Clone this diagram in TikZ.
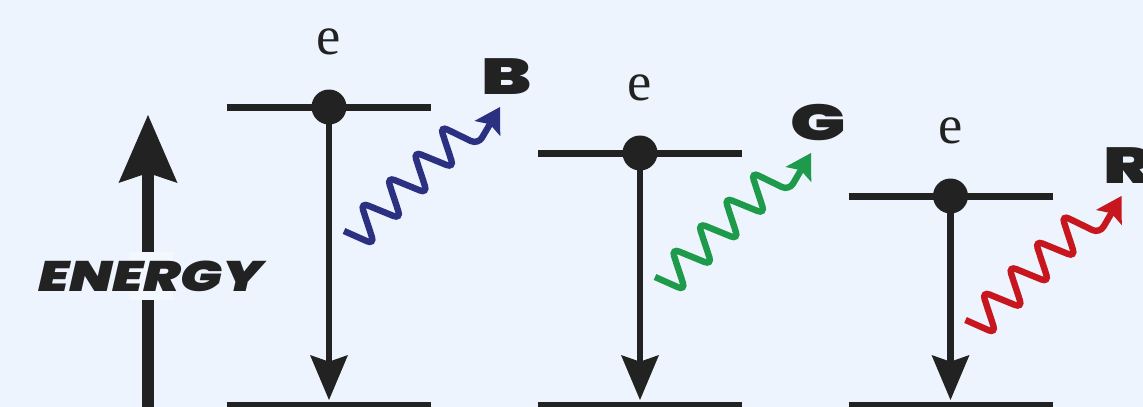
\documentclass[tikz,border=0pt]{standalone}
\usepackage{fontspec}
\usetikzlibrary{arrows.meta}
\newfontfamily\heavy{Poppins Black}[FakeStretch=1.45]
\newfontfamily\heavyit{Poppins Black Italic}[FakeStretch=1.3]
\newfontfamily\eserif{Liberation Serif}
\definecolor{bg}{RGB}{237,244,253}
\definecolor{bglight}{RGB}{243,248,254}
\definecolor{ink}{RGB}{34,34,34}
\definecolor{cB}{RGB}{43,48,128}
\definecolor{cG}{RGB}{30,154,75}
\definecolor{cR}{RGB}{200,22,30}
\newcommand\emission[5]{%
  \coordinate (#1L) at (#2-102,#3);
  \coordinate (#1R) at (#2+102,#3);
  \coordinate (#1BL) at (#2-102,405);
  \coordinate (#1BR) at (#2+102,405);
  \coordinate (#1B) at (#2,400);
  \draw[levelline] (#1L) -- (#1R);
  \draw[levelline] (#1BL) -- (#1BR);
  \node[dotnode] (#1) at (#2,#3) {};
  \draw[drop] (#1.center) -- (#1B);
  \begin{scope}[shift={(#1.center)}]
    \node[elabel] (#1e) at (0,-53) {e};
    \coordinate (#1s) at (15,124);
    \coordinate (#1t) at (171,0);
    \draw[photon,#4] (#1s) -- (45.4,137.5) -- (31.6,95.5) -- (71.9,112) -- (58.1,70)
      -- (98.4,86.5) -- (84.6,44.5) -- (124.9,61) -- (111.1,19) -- (149,37.5) -- (#1t);
    \node[colorlabel] (#1c) at (178,-30) {#5};
  \end{scope}
}
\begin{document}
\begin{tikzpicture}[x=0.75pt,y=-0.75pt,
  levelline/.style={ink,line width=5.25pt},
  drop/.style={ink,line width=4.9pt,-{Stealth[length=33.75pt,width=28.5pt,inset=5pt,line width=0pt]}},
  dotnode/.style={circle,fill=ink,inner sep=0pt,minimum size=26.25pt},
  photon/.style={line width=4.8pt,rounded corners=6pt,-{Stealth[length=18.75pt,width=22.5pt,inset=3.75pt,line width=0pt]}},
  elabel/.style={font=\eserif\fontsize{41}{41}\selectfont,inner sep=0pt,anchor=base,text=ink},
  colorlabel/.style={font=\heavy\fontsize{38}{38}\selectfont,inner sep=0pt,text=ink}]
  \useasboundingbox (0,0) rectangle (1143,407);
  \fill[bg] (0,0) rectangle (1143,407);
  \clip (0,0) rectangle (1143,407);
  % energy axis
  \coordinate (ebot) at (148,412);
  \coordinate (etop) at (148,115);
  \draw[ink,line width=9pt,-{Stealth[length=51pt,width=44.25pt,inset=7.5pt,line width=0pt]}] (ebot) -- (etop);
  \node[fill=bglight,minimum width=33pt,minimum height=36pt,inner sep=0pt] (gap) at (151,276) {};
  \node[font=\heavyit\fontsize{32}{32}\selectfont,inner sep=0pt,text=ink] (energy) at (150.5,276.5) {ENERGY};
  \emission{b}{329}{107}{cB}{B}
  \emission{g}{640}{153}{cG}{G}
  \emission{r}{950.5}{196}{cR}{R}
\end{tikzpicture}
\end{document}
